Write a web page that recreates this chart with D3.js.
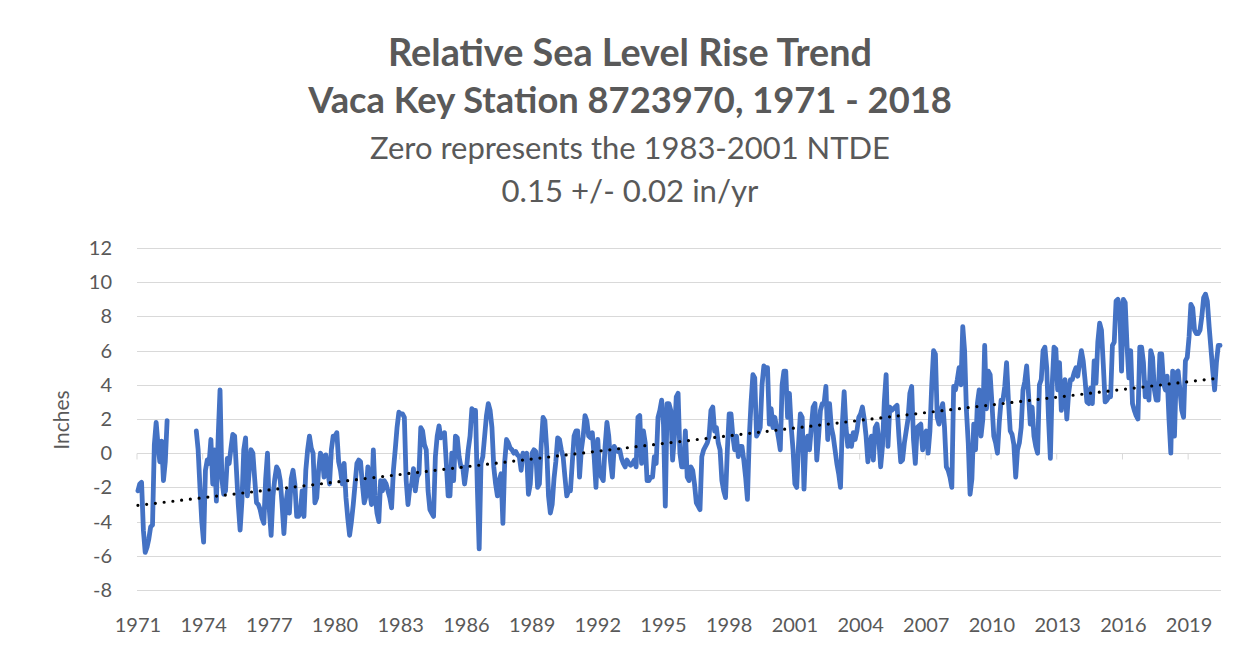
<!DOCTYPE html>
<html>
<head>
<meta charset="utf-8">
<script src="https://cdn.jsdelivr.net/npm/d3@7"></script>
<style>
  html, body { margin: 0; padding: 0; background: #fff; }
  svg { display: block; }
</style>
</head>
<body>
<div id="chart"></div>
<script>
const width = 1250;
const height = 655;

// chart text
const titleLines = [
  "Relative Sea Level Rise Trend",
  "Vaca Key Station 8723970, 1971 - 2018"
];
const subtitleLines = [
  "Zero represents the 1983-2001 NTDE",
  "0.15 +/- 0.02 in/yr"
];
const yTitle = "Inches";

// monthly mean sea level (inches), Jan 1971 .. Jun 2020
const startYear = 1971;
const seaLevel = [
  -2.2, -1.8, -1.7, -4.5, -5.8, -5.5, -5.0, -4.3, -4.2, 0.5, 1.8, 0.5,     // 1971
  -0.5, 0.7, -1.6, -0.5, 1.9, null, null, null, null, null, null, null,    // 1972
  null, null, null, null, null, null, null, null, 1.3, 0.2, -2.0, -4.0,    // 1973
  -5.2, -1.0, -0.4, -0.6, 0.8, -1.8, 0.2, -2.8, 1.0, 3.7, -1.5, -2.4,      // 1974
  -2.2, -0.3, -0.6, 0.3, 1.1, 1.0, -1.0, -3.0, -4.5, -2.8, 0.2, 0.9,       // 1975
  -2.5, -1.0, 0.2, 0.0, -1.5, -2.9, -3.0, -3.3, -3.8, -4.1, -1.5, 0.0,     // 1976
  -3.3, -4.8, -2.5, -1.5, -0.8, -1.0, -1.6, -3.0, -4.7, -3.0, -2.2, -3.5,  // 1977
  -1.5, -1.0, -1.8, -3.7, -3.7, -3.5, -2.2, -3.7, -1.0, 0.2, 1.0, 0.3,     // 1978
  0.0, -2.9, -2.6, -1.0, 0.0, -0.2, -1.4, -0.1, -1.0, -1.8, 0.2, 1.0,      // 1979
  1.0, 1.2, -0.5, -1.0, -1.8, -0.6, -2.6, -3.8, -4.8, -4.0, -3.0, -1.8,    // 1980
  -0.6, -0.4, -0.5, -1.8, -2.9, -2.5, -0.8, -2.2, -3.0, 0.2, -2.5, -3.5,   // 1981
  -4.0, -1.6, -2.2, -1.6, -1.8, -2.2, -2.6, -3.2, -1.0, 0.2, 1.5, 2.4,     // 1982
  2.3, 2.3, 2.1, -1.6, -3.0, -2.0, -1.8, -0.9, -2.2, -1.4, -1.2, 1.5,      // 1983
  1.3, 0.5, 0.2, -2.2, -3.3, -3.5, -3.7, -0.2, 1.0, 1.6, 0.9, 1.0,         // 1984
  1.2, -0.6, -2.5, -2.5, 0.0, -1.6, 1.0, 0.9, -0.2, -0.8, -0.8, -1.8,      // 1985
  -1.0, 0.2, 1.0, 2.6, 2.5, 2.5, -2.0, -5.6, -0.6, -0.2, 1.0, 2.2,         // 1986
  2.9, 2.5, 1.5, -0.8, -1.8, -2.5, -1.6, -1.2, -4.1, -0.5, 0.8, 0.6,       // 1987
  0.3, 0.2, 0.0, 0.1, -0.1, -0.2, -1.0, 0.0, -0.1, 0.0, -2.4, -1.8,        // 1988
  0.0, 0.2, 0.1, -2.0, -1.8, 0.5, 2.1, 1.9, 0.3, -2.5, -3.5, -3.0,         // 1989
  -1.5, -0.5, 0.9, 0.8, 0.2, -0.2, -1.4, -2.5, -2.2, -2.2, -0.6, 1.0,      // 1990
  1.3, 1.3, -1.4, 0.2, 1.0, 2.2, 1.9, 1.0, 0.9, 1.2, -0.2, -2.0,           // 1991
  0.8, -1.2, -1.4, -1.6, 0.4, 1.8, 1.0, -0.5, -1.4, 0.4, 0.2, 0.1,         // 1992
  0.2, -0.3, -0.6, -0.8, -0.4, -0.6, -0.7, -0.6, -0.4, -0.8, 2.1, 2.2,     // 1993
  -0.6, 1.3, 0.6, -1.6, -1.6, -1.4, -1.4, -0.2, -0.6, 2.1, 2.5, 3.1,       // 1994
  1.7, -3.1, 2.9, 2.9, 2.5, -0.4, 1.0, 3.3, 3.5, 0.0, -0.8, -0.8,          // 1995
  1.3, -1.4, -1.6, -0.8, -1.0, -1.8, -2.9, -3.1, -3.3, -0.2, 0.2, 0.4,     // 1996
  0.6, 1.0, 2.5, 2.7, 1.3, 1.5, 0.6, 0.2, -1.6, -2.2, -2.6, 0.2,           // 1997
  2.3, 2.3, 1.0, 0.2, 1.0, -0.2, 0.4, 0.4, -0.4, -1.4, -2.7, 0.9,          // 1998
  3.0, 4.6, 4.4, 1.0, 1.2, 1.5, 4.0, 5.1, 5.0, 5.0, 1.7, 2.6,              // 1999
  1.5, 2.1, 1.5, 0.9, 0.2, 4.0, 4.8, 4.8, 2.1, 3.5, 1.5, 0.2,              // 2000
  -1.8, -2.0, 0.5, 2.3, 2.1, -2.1, 0.6, 1.0, 0.2, 1.5, 2.7, 2.9,           // 2001
  -0.4, 1.0, 2.5, 2.9, 2.9, 3.9, 0.8, 2.9, 1.5, 1.0, 0.2, -0.6,            // 2002
  -1.2, -2.0, 1.7, 3.6, 1.5, 0.4, 1.0, 0.4, 1.2, 0.8, 1.3, 2.1,            // 2003
  2.3, 2.7, 2.0, 1.0, -0.5, 0.5, 1.0, -0.4, 1.5, 1.7, 0.8, -0.8,           // 2004
  0.4, 3.0, 4.6, 0.4, 2.7, 2.5, 2.6, 2.7, 2.8, 1.0, -0.5, -0.4,            // 2005
  0.6, 1.3, 2.0, 3.5, 3.9, 0.8, -0.6, 1.5, 1.6, 1.7, 0.2, 0.9,             // 2006
  1.3, 0.0, 1.3, 4.0, 6.0, 5.8, 2.1, 1.7, 2.5, 2.9, 1.5, -0.8,             // 2007
  -1.0, -1.4, -2.0, 3.9, 3.7, 4.3, 5.0, 4.0, 7.4, 6.0, 2.5, 0.6,           // 2008
  -2.4, -1.5, 1.7, 0.2, 2.9, 3.7, 1.0, 2.0, 6.3, 2.6, 4.8, 4.6,            // 2009
  2.9, 1.0, 0.6, 0.0, 1.8, 3.1, 3.1, 3.9, 5.3, 3.1, 1.3, 1.1,              // 2010
  0.5, -1.4, 0.2, 0.6, 1.5, 3.7, 4.2, 5.1, 3.5, 1.7, 2.7, 1.0,             // 2011
  0.4, 0.0, 4.0, 4.3, 6.0, 6.2, 5.0, 2.0, -0.3, 4.0, 6.2, 6.1,             // 2012
  3.7, 5.3, 2.5, 3.5, 4.3, 2.0, 3.5, 4.3, 4.3, 4.7, 5.0, 4.5,              // 2013
  5.3, 6.0, 5.4, 4.3, 3.0, 2.9, 3.8, 2.9, 5.4, 4.1, 6.5, 7.6,              // 2014
  7.2, 5.2, 3.0, 3.1, 3.3, 3.3, 6.3, 6.5, 8.9, 9.0, 8.5, 4.8,              // 2015
  9.0, 8.8, 6.3, 4.4, 6.0, 2.9, 2.5, 2.2, 2.0, 6.2, 6.2, 5.3,              // 2016
  3.3, 4.1, 3.1, 6.0, 5.6, 3.7, 3.1, 3.1, 5.8, 5.8, 4.1, 3.7,              // 2017
  4.5, 2.0, 0.0, 4.8, 1.0, 4.7, 4.8, 3.7, 2.5, 2.1, 5.4, 5.6,              // 2018
  6.8, 8.7, 8.5, 7.2, 7.0, 7.0, 7.2, 8.0, 9.1, 9.3, 8.9, 7.4,              // 2019
  6.1, 4.8, 3.7, 5.3, 6.3, 6.3                                             // 2020
];

// linear trend line, value at first and last month
const trendEnds = [-3.05, 4.4];

const yTicks = [-8, -6, -4, -2, 0, 2, 4, 6, 8, 10, 12];
const yearLabels = ["1971", "1974", "1977", "1980", "1983", "1986", "1989", "1992",
  "1995", "1998", "2001", "2004", "2007", "2010", "2013", "2016", "2019"];

// layout
const plot = { left: 137, right: 1221, top: 248, bottom: 590 };
const textColor = "#595959";
const gridColor = "#d9d9d9";
const font = "Lato, 'Open Sans', sans-serif";

const svg = d3.select("#chart").append("svg")
  .attr("width", width)
  .attr("height", height);

svg.append("rect")
  .attr("width", width).attr("height", height)
  .attr("fill", "#fff");

const n = seaLevel.length;
const x = d3.scaleLinear().domain([0, n]).range([plot.left, plot.right]);
const y = d3.scaleLinear().domain([-8, 12]).range([plot.bottom, plot.top]);

// titles, each line sized to the width it has in the picture
function fitText(sel, targetWidth) {
  sel.attr("font-size", 100);
  const w = sel.node().getComputedTextLength();
  sel.attr("font-size", 100 * targetWidth / w);
}
const titleY = [66, 113];
const titleW = [484, 644];
titleLines.forEach(function(t, i) {
  const s = svg.append("text")
    .attr("x", 630).attr("y", titleY[i])
    .attr("text-anchor", "middle")
    .attr("font-family", font)
    .attr("font-weight", "bold")
    .attr("fill", textColor)
    .text(t);
  fitText(s, titleW[i]);
});
const subY = [159, 202];
const subW = [520, 257];
subtitleLines.forEach(function(t, i) {
  const s = svg.append("text")
    .attr("x", 630).attr("y", subY[i])
    .attr("text-anchor", "middle")
    .attr("font-family", font)
    .attr("fill", textColor)
    .text(t);
  fitText(s, subW[i]);
});

// gridlines
svg.append("g")
  .selectAll("line")
  .data(yTicks)
  .join("line")
  .attr("x1", plot.left).attr("x2", plot.right)
  .attr("y1", d => Math.round(y(d)) + 0.5)
  .attr("y2", d => Math.round(y(d)) + 0.5)
  .attr("stroke", gridColor)
  .attr("stroke-width", 1);

// y axis labels (plain hyphen for negatives, as in the picture)
const yAxis = d3.axisLeft(y)
  .tickValues(yTicks)
  .tickFormat(d => String(d))
  .tickSize(0)
  .tickPadding(0);
svg.append("g")
  .attr("transform", "translate(112,0)")
  .call(yAxis)
  .call(g => g.select(".domain").remove())
  .selectAll("text")
  .attr("font-family", font)
  .attr("font-size", 20)
  .attr("fill", textColor);

svg.append("text")
  .attr("transform", "translate(69,420) rotate(-90)")
  .attr("text-anchor", "middle")
  .attr("font-family", font)
  .attr("font-size", 21)
  .attr("fill", textColor)
  .text(yTitle);

// category axis crosses at zero, labels sit low
const tickIdx = yearLabels.map(l => (+l - startYear) * 12);
const y0 = Math.round(y(0)) + 0.5;
svg.append("g")
  .selectAll("line")
  .data(tickIdx)
  .join("line")
  .attr("x1", d => x(d)).attr("x2", d => x(d))
  .attr("y1", y0).attr("y2", y0 + 6)
  .attr("stroke", gridColor);

svg.append("g")
  .selectAll("text")
  .data(yearLabels)
  .join("text")
  .attr("x", (d, i) => x(tickIdx[i] + 0.5))
  .attr("y", 632)
  .attr("text-anchor", "middle")
  .attr("font-family", font)
  .attr("font-size", 20)
  .attr("fill", textColor)
  .text(d => d);

// data line
const line = d3.line()
  .defined(d => d != null)
  .x((d, i) => x(i + 0.5))
  .y(d => y(d));

svg.append("path")
  .datum(seaLevel)
  .attr("d", line)
  .attr("fill", "none")
  .attr("stroke", "#4472c4")
  .attr("stroke-width", 4.8)
  .attr("stroke-linejoin", "round")
  .attr("stroke-linecap", "round");

// trend line
svg.append("line")
  .attr("x1", x(0.5)).attr("y1", y(trendEnds[0]))
  .attr("x2", x(n - 0.5)).attr("y2", y(trendEnds[1]))
  .attr("stroke", "#000")
  .attr("stroke-width", 3.2)
  .attr("stroke-linecap", "round")
  .attr("stroke-dasharray", "0 8.8");
</script>
</body>
</html>
